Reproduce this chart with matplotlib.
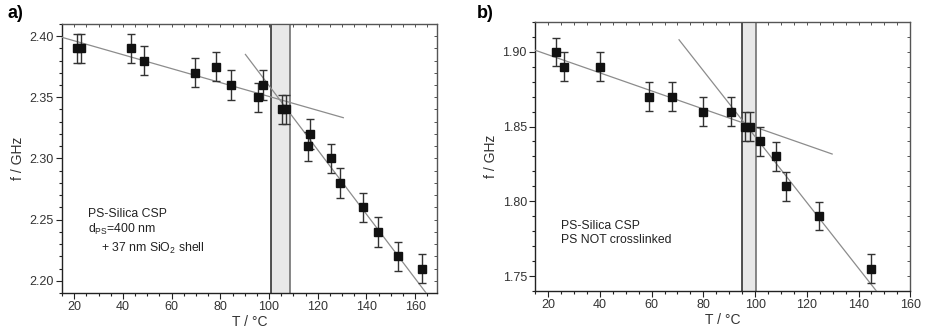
import matplotlib
matplotlib.use("Agg")
import matplotlib.pyplot as plt
from matplotlib.ticker import MultipleLocator, FormatStrFormatter

plt.rcParams["font.family"] = ["Liberation Sans", "DejaVu Sans"]
plt.rcParams["mathtext.fontset"] = "custom"
plt.rcParams["mathtext.rm"] = "Liberation Sans"
plt.rcParams["mathtext.it"] = "Liberation Sans"

# Panel a) PS-Silica CSP, 400 nm core + 37 nm shell
temp_a = [21.1, 22.9, 43.4, 48.7, 69.7, 78.3, 84.3, 95.4, 97.6, 105.3, 107.0,
          116.2, 116.9, 125.5, 129.1, 138.7, 144.8, 152.9, 162.9]
freq_a = [2.39, 2.39, 2.39, 2.38, 2.37, 2.375, 2.36, 2.35, 2.36, 2.34, 2.34,
          2.31, 2.32, 2.30, 2.28, 2.26, 2.24, 2.22, 2.21]
err_a = 0.012
fit_low_a_t = [15, 130.5]
fit_low_a_f = [2.399, 2.3333]
fit_high_a_t = [90.3, 164.5]
fit_high_a_f = [2.385, 2.19]
band_a = (101.0, 108.5)

# Panel b) PS-Silica CSP, PS not crosslinked
temp_b = [23.1, 26.1, 40.0, 59.0, 68.0, 79.9, 90.8, 96.1, 97.9, 101.9, 107.9,
          111.9, 124.9, 144.9]
freq_b = [1.90, 1.89, 1.89, 1.87, 1.87, 1.86, 1.86, 1.85, 1.85, 1.84, 1.83,
          1.81, 1.79, 1.755]
err_b = 0.0095
fit_low_b_t = [15, 129.8]
fit_low_b_f = [1.901, 1.8316]
fit_high_b_t = [70.6, 146.8]
fit_high_b_f = [1.908, 1.7402]
band_b = (95.0, 100.5)

MARKER = "#111111"
ERR = "#333333"
FIT = "#8c8c8c"
SPINE = "#222222"


def style_axes(ax, xlim, ylim, ymajor, yminor):
    ax.set_xlim(*xlim)
    ax.set_ylim(*ylim)
    ax.xaxis.set_major_locator(MultipleLocator(20))
    ax.xaxis.set_minor_locator(MultipleLocator(5))
    ax.yaxis.set_major_locator(MultipleLocator(ymajor))
    ax.yaxis.set_minor_locator(MultipleLocator(yminor))
    ax.yaxis.set_major_formatter(FormatStrFormatter("%.2f"))
    ax.tick_params(which="both", direction="out", colors=SPINE,
                   labelcolor="#333333", labelsize=9, width=0.8)
    ax.tick_params(which="major", length=4, pad=2)
    ax.tick_params(which="minor", length=2.5)
    for side in ("left", "bottom"):
        ax.spines[side].set_color(SPINE)
        ax.spines[side].set_linewidth(1.0)
    for side in ("top", "right"):
        ax.spines[side].set_color("#555555")
        ax.spines[side].set_linewidth(0.9)
    ax.set_xlabel("T / °C", fontsize=10, color="#333333", labelpad=1)
    ax.set_ylabel("f / GHz", fontsize=10, color="#333333", labelpad=3)
    # ticks on the top and right edges, without labels
    sec_x = ax.secondary_xaxis("top")
    sec_x.xaxis.set_major_locator(MultipleLocator(20))
    sec_x.xaxis.set_minor_locator(MultipleLocator(5))
    sec_x.tick_params(which="both", direction="in", labeltop=False,
                      colors="#555555", length=2.5, width=0.7)
    sec_y = ax.secondary_yaxis("right")
    sec_y.yaxis.set_major_locator(MultipleLocator(ymajor))
    sec_y.yaxis.set_minor_locator(MultipleLocator(yminor))
    sec_y.tick_params(which="both", direction="in", labelright=False,
                      colors="#555555", length=2.5, width=0.7)


def draw_panel(ax, temp, freq, err, low_t, low_f, high_t, high_f, band):
    ax.axvspan(band[0], band[1], facecolor="#e8e8e8", edgecolor="none", zorder=1)
    ax.axvline(band[0], color="#222222", lw=1.1, zorder=2)
    ax.axvline(band[1], color="#666666", lw=1.1, zorder=2)
    ax.plot(low_t, low_f, color=FIT, lw=0.9, zorder=3)
    ax.plot(high_t, high_f, color=FIT, lw=0.9, zorder=3)
    ax.errorbar(temp, freq, yerr=err, fmt="s", color=MARKER, ecolor=ERR,
                markersize=5.5, elinewidth=1.0, capsize=3, capthick=1.0,
                zorder=4)


fig = plt.figure(figsize=(9.26, 3.36), dpi=100)
ax_a = fig.add_axes([0.067, 0.128, 0.405, 0.801])
ax_b = fig.add_axes([0.578, 0.134, 0.405, 0.801])

draw_panel(ax_a, temp_a, freq_a, err_a, fit_low_a_t, fit_low_a_f,
           fit_high_a_t, fit_high_a_f, band_a)
style_axes(ax_a, (15, 169), (2.19, 2.41), 0.05, 0.01)
ax_a.text(25.5, 2.2547, "PS-Silica CSP", fontsize=8.8, va="center",
          color="#222222")
ax_a.text(25.5, 2.2422, r"d$_{\mathregular{PS}}$=400 nm", fontsize=8.8,
          va="center", color="#222222")
ax_a.text(31.0, 2.2267, r"+ 37 nm SiO$_{\mathregular{2}}$ shell", fontsize=8.8,
          va="center", color="#222222")

draw_panel(ax_b, temp_b, freq_b, err_b, fit_low_b_t, fit_low_b_f,
           fit_high_b_t, fit_high_b_f, band_b)
style_axes(ax_b, (15, 160), (1.74, 1.92), 0.05, 0.01)
ax_b.text(24.8, 1.7833, "PS-Silica CSP", fontsize=8.8, va="center",
          color="#222222")
ax_b.text(24.8, 1.7740, "PS NOT crosslinked", fontsize=8.8, va="center",
          color="#222222")

fig.text(0.008, 0.985, "a)", fontsize=13, fontweight="bold", va="top")
fig.text(0.515, 0.985, "b)", fontsize=13, fontweight="bold", va="top")

fig.savefig("out.png", dpi=100)
